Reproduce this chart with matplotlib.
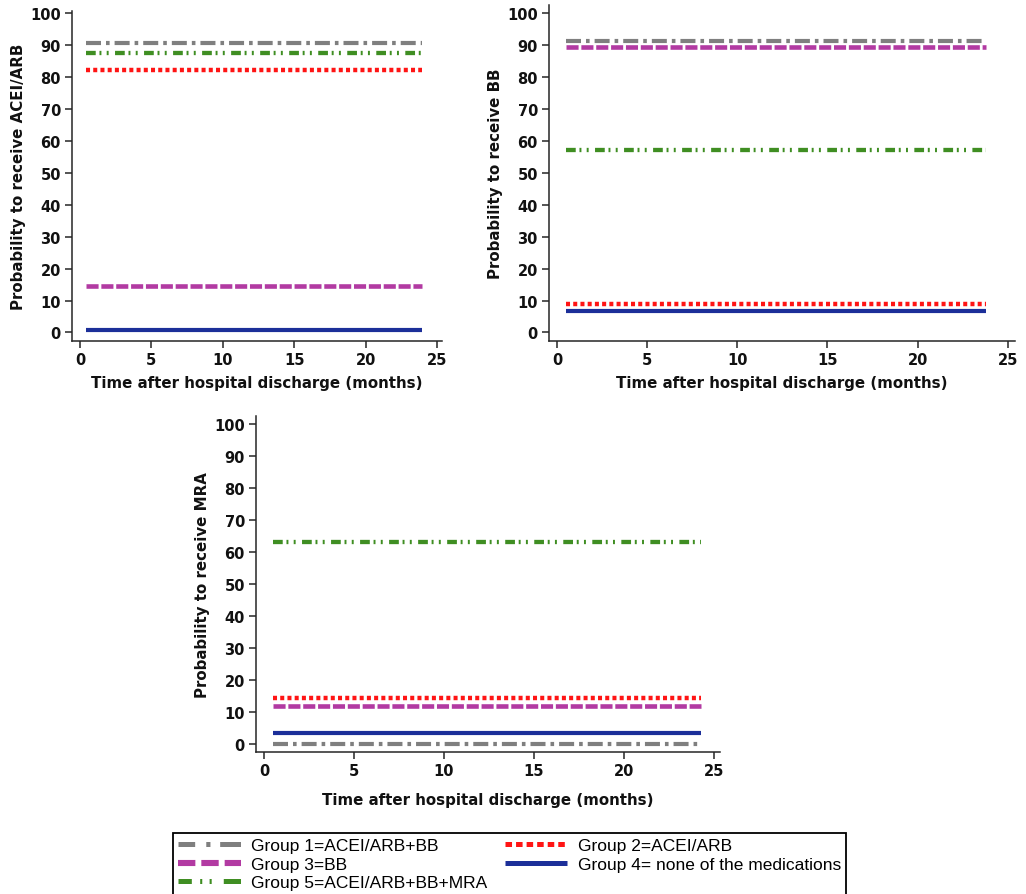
import matplotlib
matplotlib.use('Agg')
import matplotlib.pyplot as plt
from matplotlib.lines import Line2D

plt.rcParams['lines.scale_dashes'] = False
plt.rcParams['font.family'] = ['DejaVu Sans']

# ------------------- data -------------------
groups = ['Group 1=ACEI/ARB+BB', 'Group 2=ACEI/ARB', 'Group 3=BB',
          'Group 4= none of the medications', 'Group 5=ACEI/ARB+BB+MRA']

prob_acei_arb = [90.7, 82.0, 14.6, 0.7, 87.4]
prob_bb = [91.3, 8.8, 89.5, 6.7, 57.2]
prob_mra = [0.3, 14.5, 11.9, 3.6, 63.3]

time_acei_arb = [0.45, 23.95]
time_bb = [0.5, 23.8]
time_mra = [0.5, 24.3]

ylabels = ['Probability to receive ACEI/ARB', 'Probability to receive BB',
           'Probability to receive MRA']
xlabel = 'Time after hospital discharge (months)'
xticks = [0, 5, 10, 15, 20, 25]
yticks = [0, 10, 20, 30, 40, 50, 60, 70, 80, 90, 100]

# ------------------- styles -------------------
colors = ['#7f7f7f', '#ff1414', '#b23aa2', '#1c2f99', '#3f8e22']
dashes = [(10.8, 3.6, 2.6, 3.6),
          (2.9, 2.3),
          (8.7, 2.0),
          None,
          (7.0, 2.7, 1.4, 3.8, 1.4, 4.6)]
widths = [3.0, 3.2, 3.3, 3.0, 3.1]
zorders = [6, 4, 3, 2, 5]

legend_dashes = [(12, 8, 3, 7, 15, 10),
                 (4.7, 2.9),
                 (12.5, 4.3),
                 None,
                 (9.6, 6, 1.5, 5.3, 1.5, 8.7, 12.4, 5)]

DARK = '#262626'

figure = plt.figure(figsize=(10.26, 8.95), dpi=100)

panels = [
    # rect, values, time span, xlim, ylim, xlabel pad
    ([0.0702, 0.6179, 0.3606, 0.3687], prob_acei_arb, time_acei_arb, (-0.56, 25.35), (-2.66, 100.6), 5.5),
    ([0.5351, 0.6179, 0.4542, 0.3754], prob_bb, time_bb, (-0.44, 25.4), (-2.66, 102.5), 5.5),
    ([0.2495, 0.1592, 0.4522, 0.3749], prob_mra, time_mra, (-0.44, 25.33), (-2.2, 102.6), 10),
]

for i, (rect, vals, tspan, xlim, ylim, xpad) in enumerate(panels):
    ax = figure.add_axes(rect)
    for g in range(len(groups)):
        line, = ax.plot(tspan, [vals[g], vals[g]], color=colors[g],
                        lw=widths[g], zorder=zorders[g],
                        solid_capstyle='butt', dash_capstyle='butt')
        if dashes[g] is not None:
            line.set_dashes(dashes[g])
    ax.set_xlim(*xlim)
    ax.set_ylim(*ylim)
    ax.set_xticks(xticks)
    ax.set_yticks(yticks)
    for s in ['top', 'right']:
        ax.spines[s].set_visible(False)
    for s in ['left', 'bottom']:
        ax.spines[s].set_linewidth(1.1)
        ax.spines[s].set_color(DARK)
    ax.tick_params(direction='out', length=5, width=1.1, color=DARK,
                   labelsize=10.5, pad=3, labelcolor='#111111')
    for lab in ax.get_xticklabels() + ax.get_yticklabels():
        lab.set_fontweight('bold')
    ax.set_xlabel(xlabel, fontsize=10.8, fontweight='bold', labelpad=xpad,
                  color='#111111')
    ax.set_ylabel(ylabels[i], fontsize=10.8, fontweight='bold', labelpad=3,
                  color='#111111')

# ------------------- legend (proxy handles) -------------------
handles = []
for g in range(len(groups)):
    h = Line2D([0], [0], color=colors[g], lw=3.6 if g != 2 else 4.4,
               solid_capstyle='butt', dash_capstyle='butt')
    if legend_dashes[g] is not None:
        h.set_dashes(legend_dashes[g])
    handles.append(h)

order = [0, 2, 4, 1, 3]
leg = figure.legend([handles[k] for k in order], [groups[k] for k in order],
                    ncol=2, loc='upper left',
                    bbox_to_anchor=(173 / 1026, 1 - 834 / 895),
                    borderaxespad=0, frameon=True, fancybox=False,
                    framealpha=1, edgecolor='black',
                    prop={'family': 'Liberation Sans', 'size': 12.5},
                    handlelength=3.6, handletextpad=0.6, columnspacing=1.0,
                    labelspacing=0.18, borderpad=0.3)
leg.get_frame().set_linewidth(1.3)

figure.savefig('out.png', dpi=100)
